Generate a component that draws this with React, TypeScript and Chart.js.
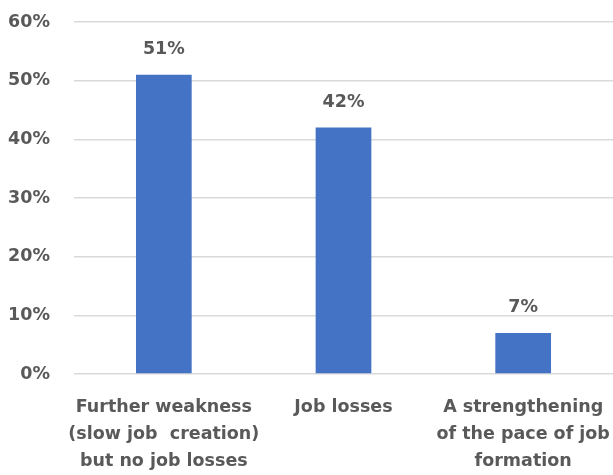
import React, { useEffect, useRef } from "react";
import { Chart, registerables } from "chart.js";

Chart.register(...registerables);

const categories: string[][] = [
  ["Further weakness", "(slow job  creation)", "but no job losses"],
  ["Job losses"],
  ["A strengthening", "of the pace of job", "formation"],
];
const values: number[] = [51, 42, 7];
const yTicks: number[] = [0, 10, 20, 30, 40, 50, 60];

const TEXT = "#595959";
const FONT = "'DejaVu Sans'";
const SIZE = 17.5;

const dataLabels = {
  id: "dataLabels",
  afterDatasetsDraw(chart: any) {
    const ctx = chart.ctx;
    const meta = chart.getDatasetMeta(0);
    ctx.save();
    ctx.fillStyle = TEXT;
    ctx.font = `bold ${SIZE}px ${FONT}`;
    ctx.textAlign = "center";
    ctx.textBaseline = "alphabetic";
    meta.data.forEach((bar: any, i: number) => {
      ctx.fillText(values[i] + "%", bar.x, bar.y - 21);
    });
    ctx.restore();
  },
};

export default function App() {
  const ref = useRef<HTMLCanvasElement>(null);
  useEffect(() => {
    document.body.style.margin = "0";
    const chart = new Chart(ref.current!, {
      type: "bar",
      data: {
        labels: categories,
        datasets: [
          {
            data: values,
            backgroundColor: "#4472C4",
            barPercentage: 0.62,
            categoryPercentage: 0.5,
          },
        ],
      },
      options: {
        animation: false,
        responsive: false,
        layout: { padding: { top: 22, right: 0, left: 0, bottom: 0 } },
        plugins: { legend: { display: false }, tooltip: { enabled: false } },
        scales: {
          x: {
            grid: { display: false, drawTicks: false },
            border: { display: false },
            ticks: {
              color: TEXT,
              font: { family: FONT, size: SIZE, weight: "bold", lineHeight: 1.54 },
              padding: 20,
              maxRotation: 0,
              autoSkip: false,
            },
            afterFit: (s: any) => {
              s.height = 101;
              s.paddingTop = 0;
              s.paddingBottom = 0;
              s.paddingLeft = 0;
              s.paddingRight = 0;
            },
          },
          y: {
            min: 0,
            max: 60,
            afterBuildTicks: (s: any) => {
              s.ticks = yTicks.map((v) => ({ value: v }));
            },
            grid: { color: "#D9D9D9", lineWidth: 1.5, drawTicks: false },
            border: { display: false },
            ticks: {
              color: TEXT,
              font: { family: FONT, size: SIZE, weight: "bold" },
              padding: 24,
              callback: (v: any) => v + "%",
            },
            afterFit: (s: any) => {
              s.width = 74;
              s.paddingTop = 0;
              s.paddingBottom = 0;
            },
          },
        },
      },
      plugins: [dataLabels],
    });
    return () => chart.destroy();
  }, []);
  return <canvas ref={ref} width={613} height={475} style={{ display: "block" }} />;
}
